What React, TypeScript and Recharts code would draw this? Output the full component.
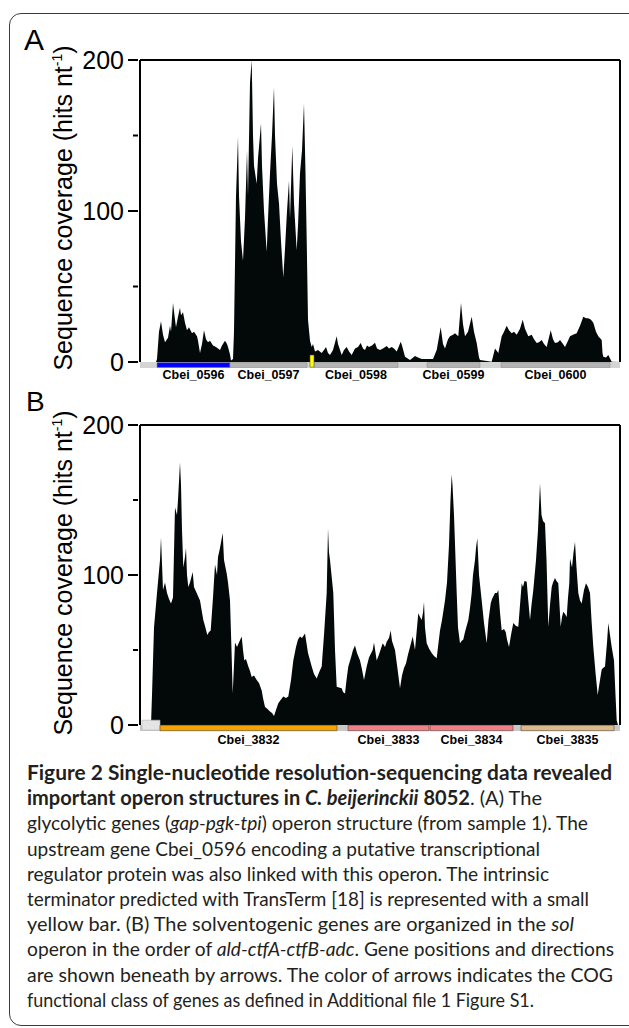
import { AreaChart, Area, XAxis, YAxis, ReferenceArea, ReferenceLine } from "recharts";

// y ticks shared by both panels (labels only on multiples of 100)
const TICKS = [0, 50, 100, 150, 200];

// Panel A: coverage along the gap-pgk-tpi region (x = position along the plotted window)
const POS_A = [
  0, 16, 17, 19, 21, 23, 25, 28, 30, 31, 33, 35, 36, 38, 40, 41, 43, 45, 47, 49, 52, 54, 57, 58, 60, 62, 64, 66, 68, 70,
  73, 76, 80, 82, 85, 87, 88, 90, 91, 93, 94, 96, 98, 99, 101, 103, 105, 107, 108, 110, 111.7, 113, 114, 116.7, 118, 121,
  122, 124, 126.7, 128, 130, 132, 134, 135, 137, 139, 141, 143.3, 145, 147, 149, 150, 152.3, 154, 156.7, 158, 160, 162,
  164, 165.5, 166.7, 168, 170, 171.7, 173, 175, 178, 181.7, 184, 186, 188, 190, 193, 196.7, 198, 201.7, 204, 206.7, 209,
  211.7, 215, 218, 220.7, 223, 225, 227, 229, 232, 235, 237, 240, 243, 246.7, 249, 251.7, 254, 256.7, 258, 260.7, 262,
  265, 270, 275, 278, 281.7, 293, 296.7, 300.7, 303, 305, 308, 310, 313, 315, 318.3, 321, 323, 325, 328, 331.7, 334,
  336.7, 339, 340, 351.7, 355, 358.3, 361.7, 364, 366.7, 369, 371.7, 374, 376.7, 380, 382.7, 385, 388.3, 391.7, 394,
  396.7, 399, 401.7, 404, 406.7, 410.7, 413, 415, 418, 420, 423, 425, 428, 430, 433, 436.7, 440, 443.3, 446, 448.3, 451,
  453.3, 456, 458.3, 461.7, 462.5, 463.3, 466, 468.3, 471.7, 480,
];
const COV_A = [
  0, 0, 2, 20, 27, 18, 13, 16, 24, 20, 39, 28, 23, 30, 36, 31, 33, 26, 21, 23, 19, 20, 17, 14, 6, 12, 21, 15, 13, 14,
  11, 10, 8, 11, 14, 12, 10, 5, 1, 2, 20, 110, 149, 110, 80, 67, 95, 140, 110, 185, 200, 150, 130, 118, 135, 158,
  130, 100, 73, 95, 125, 150, 182, 150, 118, 105, 80, 56, 75, 100, 120, 95, 143, 105, 74, 90, 125, 140,
  171, 125, 81, 28, 14, 10, 12, 7, 8, 6, 8, 10, 6, 4.6, 8, 17, 12, 4.6, 8, 10, 7,
  4.6, 9, 10, 12.6, 9, 8, 11, 10, 11, 12.8, 9, 8, 9, 10.6, 9, 10, 9, 7, 9, 13.4, 11,
  3.5, 1.3, 4, 3, 2, 2, 8, 23, 12, 9, 15, 17, 18, 19, 17, 39, 25, 17, 20, 30, 20,
  12.6, 3, 1.3, 0.2, 9, 6, 17, 20, 24, 21, 19, 20, 18, 22, 28, 22, 17, 18, 15,
  12.6, 13, 14.6, 12, 10, 21, 15, 12.6, 13, 14.6, 12, 10, 14, 17, 18, 19, 24, 30, 29, 29, 28,
  26, 20, 17, 14.6, 6, 3.5, 3, 4.6, 0.2, 0,
];

// Panel B: coverage along the sol operon
const POS_B = [
  0, 11, 12, 14, 17, 20, 21, 23, 25, 27, 29, 31, 33, 35, 37, 38, 40, 41, 42, 43.3, 45, 46, 47, 48.3, 50, 52.7, 54, 56.7,
  58, 60, 62, 63.3, 65, 67.3, 69, 70.7, 73, 75, 77, 78, 80, 82.7, 84, 86.7, 88, 90, 91.5, 92.7, 94, 95, 97, 99.3, 101.7,
  103, 104.3, 106, 108.3, 110, 111.7, 114, 116.7, 119, 121.7, 123, 125, 127, 130, 132, 134, 136, 138.3, 141, 143.3, 146,
  148.3, 151, 153.3, 156, 158, 160, 162, 165, 168, 171.7, 174, 176.7, 179, 181.7, 184, 186.7, 188, 189, 190, 193.3, 195,
  196.7, 199, 201.7, 203, 205, 206.5, 208.3, 211, 213, 215, 217, 220, 222, 224, 225.5, 226.7, 229, 232.7, 234, 236.7,
  239, 242.7, 245, 246.7, 249, 250.7, 252, 255, 257, 260, 262, 264, 266, 268, 270, 272.7, 274, 275, 277, 278.3, 280,
  281.7, 283, 284, 285, 286.7, 289, 291.7, 294, 296.7, 298, 300, 302, 305, 307, 309, 310.5, 311.7, 312.5, 314, 316.7,
  318, 320, 321.5, 323.3, 325, 328.3, 330, 331.7, 333, 335, 336, 337.3, 339, 341.7, 344, 346.7, 348.5, 350.7, 352, 355,
  357, 358.3, 360, 361.7, 364, 365.7, 367, 369, 371, 373.3, 376, 378.3, 380, 381.7, 383, 384.5, 386.7, 388, 390, 391.5,
  393.3, 396, 398, 400, 401.5, 403, 405, 406.5, 408.3, 410, 411.7, 413, 415, 416.5, 418.3, 419.5, 420.7, 422, 423.3, 425,
  426.7, 428, 429.3, 430, 432, 433.5, 435, 436.5, 438.3, 440, 441.7, 444, 446, 448, 450, 451.5, 453.3, 455.5, 457.7, 460,
  461.7, 463, 465, 467, 468.3, 470, 471.7, 474, 475.5, 476.7, 478, 480,
];
const COV_B = [
  0, 0, 20, 65, 88, 110, 125, 90, 95, 88, 84, 81, 85, 145, 140, 150, 175, 160, 130, 105, 112, 118, 100, 92, 95, 102, 92, 88,
  86, 83, 75, 70, 66, 60, 62, 63, 85, 107, 100, 112, 118, 128, 110, 101, 95, 83, 50, 21, 40, 55, 52, 55.5, 59,
  50, 43, 44, 39, 36, 32, 33, 30, 28, 23, 18, 12, 11, 9, 8, 6, 10, 14.5, 17, 19, 18,
  19, 30, 43, 52, 57, 59, 58, 61, 48, 39, 34, 31, 35, 39, 60, 88, 131, 115, 110, 88, 50,
  25.5, 25, 24.5, 22, 21, 30, 39, 45, 50, 53, 48, 43, 37, 30, 35, 39, 45, 50, 55, 43,
  47, 54.5, 52, 55.5, 58, 63, 56, 50, 40, 24.5, 33, 38, 41, 47, 52, 59, 54, 50, 65, 74.5, 72,
  70, 75, 82, 65, 54.5, 51, 48, 46, 44.5, 52, 63, 70, 83, 95, 120, 150, 167, 160, 140, 88,
  65, 54.5, 56, 57, 62, 70, 78, 88, 100, 110, 118, 124.5, 100, 83, 68, 54.5, 70, 81, 84, 88,
  88, 90, 75, 63, 64, 62, 57, 52, 60, 68, 66, 65.5, 80, 94.5, 92, 96, 95.5, 85, 70, 80,
  90, 110, 130, 161, 140, 136, 134.5, 110, 65.5, 80, 92, 95, 98, 96, 94.5, 80, 65.5, 72, 75.5, 74,
  72, 85, 94.5, 111, 105, 115, 122, 105, 88, 83, 81, 90, 94.5, 92, 88, 70, 52, 35, 20, 30,
  37, 38, 39, 55, 68, 60, 52, 43, 20, 3, 0, 0,
];

// gene arrows under each panel (same x units as the coverage)
const GENES_A = ["Cbei_0596", "Cbei_0597", "Cbei_0598", "Cbei_0599", "Cbei_0600"];
const GENE_START_A = [17, 90, 174, 287, 361];
const GENE_END_A = [90, 167, 258, 340, 470];
const GENE_COG_A = ["K", "G", "G", "G", "G"];
const TERMINATOR_A = [170, 174];

const GENES_B = ["Cbei_3832", "Cbei_3833", "Cbei_3834", "Cbei_3835"];
const GENE_START_B = [20, 208, 290, 381];
const GENE_END_B = [197, 289, 373, 474];
const GENE_COG_B = ["C", "I", "I", "Q"];
const UPSTREAM_B = [2, 20];

const COG_COLORS: Record<string, string> = {
  K: "#0000ff",
  G: "#b4b4b4",
  C: "#f5a300",
  I: "#ef7f88",
  Q: "#dcb98a",
};

const FILL = "#030808";
const AXIS_FONT = "'Liberation Sans', Arial, sans-serif";

const dataA = POS_A.map((pos, i) => ({ pos, cov: COV_A[i] }));
const dataB = POS_B.map((pos, i) => ({ pos, cov: COV_B[i] }));

function YTick(props: any) {
  const { x, y, payload } = props;
  const major = payload.value % 100 === 0;
  return (
    <g>
      <line x1={x - (major ? 10 : 5)} x2={x} y1={y} y2={y} stroke="#000" strokeWidth={2} />
      {major && (
        <text x={x - 14} y={y} textAnchor="end" dominantBaseline="central" fontSize={25} fontFamily={AXIS_FONT} fill="#000">
          {payload.value}
        </text>
      )}
    </g>
  );
}

function geneLabel(name: string, offset: number) {
  return {
    value: name,
    position: "bottom" as const,
    offset,
    fontSize: 12.5,
    fontWeight: "bold",
    fontFamily: AXIS_FONT,
    fill: "#000",
  };
}

function Panel({ data, height, top, bottom, children }: any) {
  return (
    <AreaChart width={629} height={height} data={data} margin={{ top, right: 9, bottom, left: 0 }}>
      <XAxis type="number" dataKey="pos" domain={[0, 480]} hide />
      <YAxis
        width={140}
        domain={[0, 200]}
        ticks={TICKS}
        interval={0}
        tick={<YTick />}
        tickSize={0}
        tickLine={false}
        axisLine={{ stroke: "#000", strokeWidth: 2 }}
        allowDataOverflow
      />
      <Area dataKey="cov" type="linear" fill={FILL} fillOpacity={1} stroke="none" isAnimationActive={false} />
      <ReferenceLine y={200} stroke="#000" strokeWidth={2} />
      <ReferenceLine x={480} stroke="#000" strokeWidth={2} />
      {children}
    </AreaChart>
  );
}

const CAPTION: { text: string; w?: "b"; i?: boolean }[][] = [
  [{ text: "Figure 2 Single-nucleotide resolution-sequencing data revealed", w: "b" }],
  [
    { text: "important operon structures in ", w: "b" },
    { text: "C. beijerinckii", w: "b", i: true },
    { text: " 8052", w: "b" },
    { text: ". (A) The" },
  ],
  [{ text: "glycolytic genes (" }, { text: "gap-pgk-tpi", i: true }, { text: ") operon structure (from sample 1). The" }],
  [{ text: "upstream gene Cbei_0596 encoding a putative transcriptional" }],
  [{ text: "regulator protein was also linked with this operon. The intrinsic" }],
  [{ text: "terminator predicted with TransTerm [18] is represented with a small" }],
  [{ text: "yellow bar. (B) The solventogenic genes are organized in the " }, { text: "sol", i: true }],
  [{ text: "operon in the order of " }, { text: "ald-ctfA-ctfB-adc", i: true }, { text: ". Gene positions and directions" }],
  [{ text: "are shown beneath by arrows. The color of arrows indicates the COG" }],
  [{ text: "functional class of genes as defined in Additional file 1 Figure S1." }],
];
const CAPTION_END = [612, 542, 588, 540, 549, 589, 574, 614, 613, 534];

function YLabel({ cx, cy }: { cx: number; cy: number }) {
  return (
    <text
      x={cx}
      y={cy}
      transform={`rotate(-90 ${cx} ${cy})`}
      textAnchor="middle"
      fontSize={25}
      fontFamily={AXIS_FONT}
      fill="#000"
    >
      Sequence coverage (hits nt
      <tspan dy={-10} fontSize={14}>-1</tspan>
      <tspan dy={10}>)</tspan>
    </text>
  );
}

export default function App() {
  return (
    <div style={{ position: "relative", width: 629, height: 1028, overflow: "hidden", background: "#fff" }}>
      <style>{`body{margin:0}`}</style>
      <div
        style={{
          position: "absolute",
          left: 9,
          top: 13,
          width: 680,
          height: 1011,
          border: "1.5px solid #3c3c3c",
          borderRadius: 12,
        }}
      />
      <div style={{ position: "absolute", left: 0, top: 0 }}>
        <Panel data={dataA} height={400} top={60} bottom={38}>
          <ReferenceArea x1={0} x2={480} y1={-4} y2={0} ifOverflow="visible" fill="#d4d4d4" fillOpacity={1} />
          {GENES_A.map((g, i) => (
            <ReferenceArea
              key={g}
              x1={GENE_START_A[i]}
              x2={GENE_END_A[i]}
              y1={-3.6}
              y2={-0.4}
              ifOverflow="visible"
              fill={COG_COLORS[GENE_COG_A[i]]}
              fillOpacity={1}
              stroke="#8a8a8a"
              strokeWidth={0.5}
              label={geneLabel(g, 3)}
            />
          ))}
          <ReferenceArea
            x1={TERMINATOR_A[0]}
            x2={TERMINATOR_A[1]}
            y1={-3.4}
            y2={4.6}
            ifOverflow="visible"
            fill="#ffff00"
            fillOpacity={1}
            stroke="#555"
            strokeWidth={0.6}
          />
        </Panel>
      </div>
      <div style={{ position: "absolute", left: 0, top: 390 }}>
        <Panel data={dataB} height={370} top={35} bottom={35}>
          <ReferenceArea x1={0} x2={480} y1={-4} y2={0} ifOverflow="visible" fill="#c8c8c8" fillOpacity={1} />
          <ReferenceArea
            x1={UPSTREAM_B[0]}
            x2={UPSTREAM_B[1]}
            y1={-3.4}
            y2={3.2}
            ifOverflow="visible"
            fill="#e4e4e4"
            fillOpacity={1}
            stroke="#b0b0b0"
            strokeWidth={0.6}
          />
          {GENES_B.map((g, i) => (
            <ReferenceArea
              key={g}
              x1={GENE_START_B[i]}
              x2={GENE_END_B[i]}
              y1={-3.8}
              y2={-0.2}
              ifOverflow="visible"
              fill={COG_COLORS[GENE_COG_B[i]]}
              fillOpacity={1}
              stroke="#5a4a3a"
              strokeWidth={0.6}
              label={geneLabel(g, 4)}
            />
          ))}
        </Panel>
      </div>
      <svg width={629} height={1028} style={{ position: "absolute", left: 0, top: 0, pointerEvents: "none" }}>
        <text x={24} y={50} fontSize={30} fontFamily={AXIS_FONT} fill="#000">A</text>
        <text x={26} y={411} fontSize={28} fontFamily={AXIS_FONT} fill="#000">B</text>
        <YLabel cx={72} cy={208} />
        <YLabel cx={72} cy={573} />
        {CAPTION.map((line, i) => (
          <text
            key={i}
            x={27}
            y={780 + i * 25.2}
            fontSize={20}
            fontFamily="Lato, 'Open Sans', sans-serif"
            fill="#231f20"
            textLength={CAPTION_END[i] - 27}
            lengthAdjust="spacingAndGlyphs"
          >
            {line.map((s, j) => (
              <tspan key={j} fontWeight={s.w === "b" ? 700 : 400} fontStyle={s.i ? "italic" : "normal"}>
                {s.text}
              </tspan>
            ))}
          </text>
        ))}
      </svg>
    </div>
  );
}
